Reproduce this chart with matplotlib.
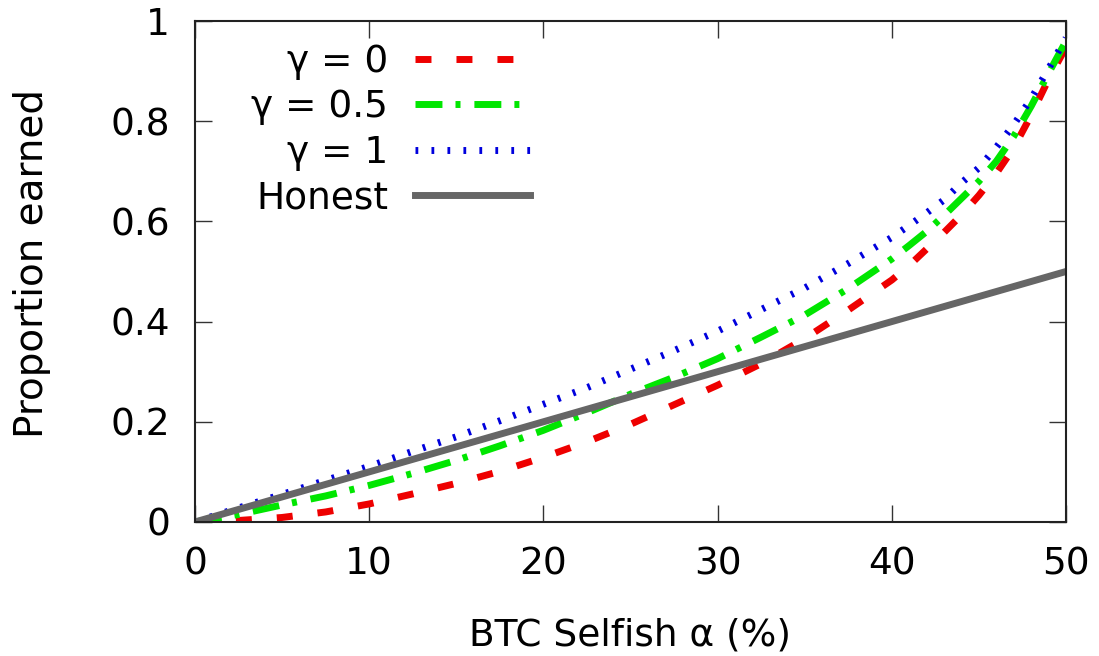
import matplotlib
matplotlib.use('Agg')
import matplotlib.pyplot as plt

plt.rcParams['font.family'] = 'DejaVu Sans'
plt.rcParams['lines.scale_dashes'] = False

# selfish pool size (%)
alpha = [0, 2.5, 5, 7.5, 10, 12.5, 15, 17.5, 20, 22.5, 25, 27.5, 30, 32.5, 35,
         37.5, 40, 41, 42, 43, 44, 45, 46, 47, 48, 49, 50]

# share of blocks earned by the selfish pool
gamma_0 = [0, 0.003, 0.009, 0.020, 0.036, 0.056, 0.077, 0.101, 0.129, 0.160,
           0.195, 0.234, 0.273, 0.316, 0.366, 0.423, 0.483, 0.512, 0.545,
           0.578, 0.613, 0.652, 0.696, 0.747, 0.812, 0.884, 0.948]
gamma_05 = [0, 0.015, 0.034, 0.052, 0.073, 0.097, 0.123, 0.152, 0.183, 0.218,
            0.255, 0.289, 0.326, 0.369, 0.413, 0.466, 0.525, 0.552, 0.580,
            0.612, 0.646, 0.680, 0.720, 0.770, 0.830, 0.896, 0.960]
gamma_1 = [0, 0.028, 0.055, 0.083, 0.111, 0.141, 0.170, 0.202, 0.235, 0.268,
           0.305, 0.342, 0.381, 0.424, 0.467, 0.516, 0.568, 0.592, 0.617,
           0.643, 0.677, 0.707, 0.748, 0.793, 0.845, 0.905, 0.966]

honest_x = [0, 50]
honest_y = [0, 0.5]

fig = plt.figure(figsize=(10.99, 6.56), dpi=100)
ax = fig.add_axes([0.1774, 0.2043, 0.7926, 0.7637])

ax.plot(alpha, gamma_0, color='#ee0000', lw=5, dashes=(11.5, 18),
        label='γ = 0')
ax.plot(alpha, gamma_05, color='#00e600', lw=5, dashes=(19.4, 9.4, 3.6, 10),
        label='γ = 0.5')
ax.plot(alpha, gamma_1, color='#0000dd', lw=5, dashes=(2, 9.5),
        label='γ = 1')
ax.plot(honest_x, honest_y, color='#666666', lw=5, label='Honest')

ax.set_xlim(0, 50)
ax.set_ylim(0, 1)
ax.set_xticks([0, 10, 20, 30, 40, 50])
ax.set_yticks([0, 0.2, 0.4, 0.6, 0.8, 1])
ax.set_yticklabels(['0', '0.2', '0.4', '0.6', '0.8', '1'])
ax.tick_params(direction='in', length=12, width=1, top=True, right=True,
               labelsize=27, pad=18, color='#333333')
for s in ax.spines.values():
    s.set_linewidth(1.5)
    s.set_color('#222222')

ax.set_xlabel('BTC Selfish α (%)', fontsize=27)
ax.set_ylabel('Proportion earned', fontsize=28)
ax.xaxis.set_label_coords(0.5, -0.19)
ax.yaxis.set_label_coords(-0.165, 0.515)

ax.legend(loc='upper right', bbox_to_anchor=(530 / 1099, 1 - 44 / 656),
          bbox_transform=fig.transFigure, markerfirst=False, frameon=False,
          fontsize=27, handlelength=3.07, handletextpad=0.72,
          labelspacing=0.25, borderpad=0, borderaxespad=0)

fig.savefig('out.png', dpi=100)
